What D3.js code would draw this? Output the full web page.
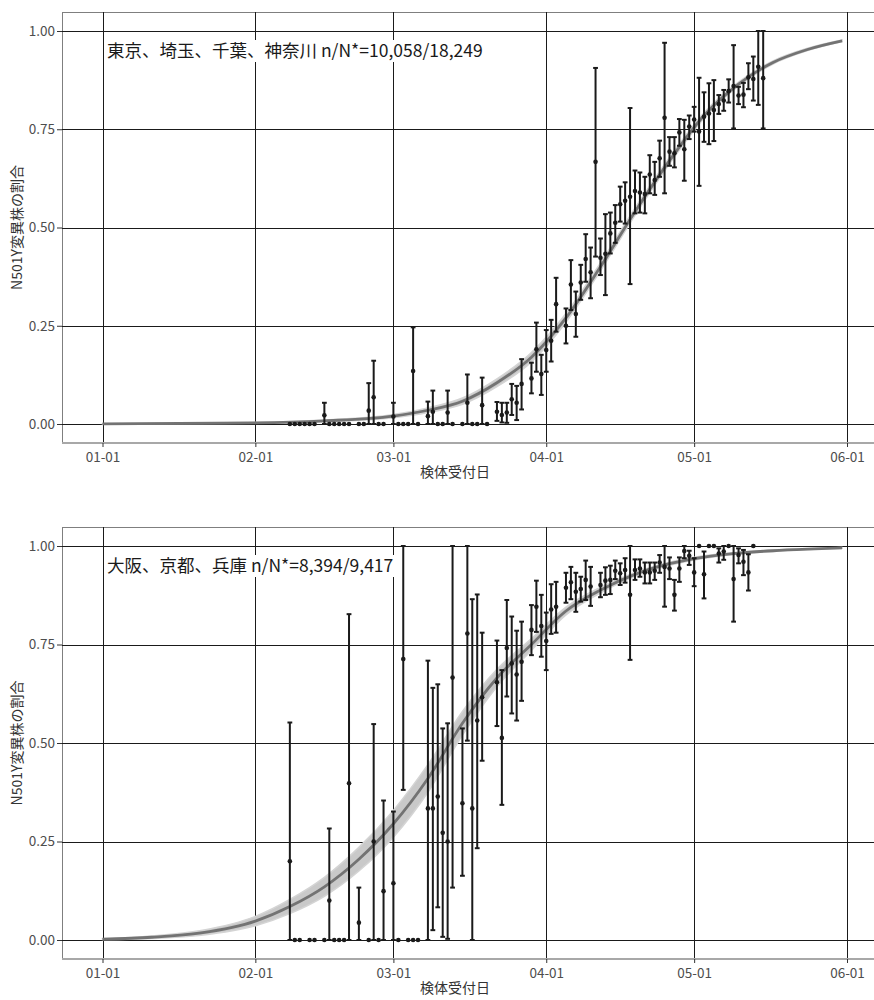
<!DOCTYPE html>
<html>
<head>
<meta charset="utf-8">
<script src="https://cdn.jsdelivr.net/npm/d3@7/dist/d3.min.js"></script>
<style>
  body { margin: 0; background: #fff; }
  text { font-family: "Noto Sans CJK JP", "Noto Sans", sans-serif; }
</style>
</head>
<body>
<div id="chart"></div>
<script>
// ---- data ----
var yTicks = [0, 0.25, 0.5, 0.75, 1];
var xTicks = ["01-01", "02-01", "03-01", "04-01", "05-01", "06-01"];

// 東京、埼玉、千葉、神奈川 : daily proportion with 95% interval (null = no bar)
var kantoDates = ["02-08","02-09","02-10","02-11","02-12","02-13","02-15","02-16","02-17","02-18","02-19","02-20","02-22","02-23","02-24","02-25","02-26","02-27",
  "03-01","03-02","03-03","03-04","03-05","03-06","03-08","03-09","03-10","03-11","03-12","03-13","03-15","03-16","03-17","03-18","03-19","03-20","03-22","03-23","03-24","03-25","03-26","03-27","03-29","03-30","03-31",
  "04-01","04-02","04-03","04-05","04-06","04-07","04-08","04-09","04-10","04-11","04-12","04-13","04-14","04-15","04-16","04-17","04-18","04-19","04-20","04-21","04-22","04-23","04-24","04-25","04-26","04-27","04-28","04-29","04-30",
  "05-01","05-02","05-03","05-04","05-05","05-06","05-07","05-08","05-09","05-10","05-11","05-12","05-13","05-14","05-15"];
var kantoProp = [0,0,0,0,0,0,.022,0,0,0,0,0,0,0,.034,.068,0,0,
  .019,0,0,0,.135,0,.02,.031,0,0,.029,0,0,.054,0,0,.048,0,.031,.023,.029,.063,.054,.102,.116,.19,.127,
  .188,.212,.305,.25,.355,.28,.36,.42,.386,.667,.423,.433,.485,.512,.559,.568,.578,.593,.589,.585,.635,.621,.676,.779,.693,.689,.742,.699,.757,
  .775,.744,.782,.79,.799,.814,.823,.847,.86,.836,.838,.882,.878,.909,.88];
var kantoLo = [null,null,null,null,null,null,0,null,null,null,null,null,null,null,0,0,null,null,
  0,null,null,null,0,null,0,0,null,null,0,null,null,0,null,null,0,null,.008,.004,.003,.023,.01,.037,.078,.133,.074,
  .133,.159,.235,.205,.29,.222,.316,.362,.32,.426,.379,.328,.434,.461,.515,.51,.356,.536,.538,.536,.587,.583,.629,.587,.657,.653,.708,.619,.725,
  .744,.606,.718,.712,.72,.789,.797,.818,.752,.814,.806,.852,.823,.812,.752];
var kantoHi = [null,null,null,null,null,null,.054,null,null,null,null,null,null,null,.104,.161,null,null,
  .054,null,null,null,.246,null,.057,.085,null,null,.085,null,null,.126,null,null,.118,null,.056,.054,.054,.102,.097,.165,.156,.258,.176,
  .239,.265,.372,.294,.417,.337,.405,.483,.449,.906,.472,.534,.538,.557,.604,.615,.804,.645,.64,.629,.684,.667,.721,.97,.73,.73,.776,.774,.785,
  .807,.881,.844,.867,.875,.837,.85,.877,.964,.858,.868,.918,.935,1,1];

// fitted curve and its band
var kantoFitDates = ["01-01","02-01","02-15","03-01","03-08","03-15","03-22","03-29","04-05","04-12","04-19","04-26","05-03","05-10","05-17","05-24","05-31"];
var kantoFit   = [.0005,.003,.008,.02,.035,.058,.105,.17,.27,.40,.54,.67,.785,.865,.92,.953,.975];
var kantoFitLo = [.0002,.002,.006,.016,.029,.05,.095,.158,.259,.39,.531,.662,.778,.86,.916,.95,.973];
var kantoFitHi = [.0008,.004,.01,.024,.041,.066,.115,.182,.281,.41,.549,.678,.792,.87,.924,.956,.977];

// 大阪、京都、兵庫
var kansaiDates = ["02-08","02-09","02-10","02-12","02-13","02-15","02-16","02-17","02-18","02-19","02-20","02-22","02-24","02-25","02-26","02-27",
  "03-01","03-02","03-03","03-04","03-05","03-06","03-08","03-09","03-10","03-11","03-12","03-13","03-15","03-16","03-17","03-18","03-19","03-22","03-23","03-24","03-25","03-26","03-27","03-29","03-30","03-31",
  "04-01","04-02","04-03","04-05","04-06","04-07","04-08","04-09","04-10","04-12","04-13","04-14","04-15","04-16","04-17","04-18","04-19","04-20","04-21","04-22","04-23","04-24","04-25","04-26","04-27","04-28","04-29","04-30",
  "05-01","05-02","05-03","05-04","05-05","05-06","05-07","05-08","05-09","05-10","05-11","05-12","05-13"];
var kansaiProp = [.2,0,0,0,0,0,.1,0,0,0,.398,.044,0,.25,0,.124,
  .144,0,.713,0,0,0,.334,.334,.364,.272,.25,.666,.347,.778,.334,.557,.616,.654,.513,.741,.702,.674,.706,.787,.846,.797,
  .759,.839,.846,.894,.908,.884,.891,.914,.897,.901,.912,.914,.937,.931,.939,.876,.939,.943,.933,.933,.937,.958,.947,.943,.876,.943,.987,.975,
  .933,1,.928,1,1,.981,.986,1,.916,.977,.96,.933,1];
var kansaiLo = [0,null,null,null,null,null,0,null,null,null,0,0,null,0,null,0,
  0,null,.381,null,null,null,0,.025,.083,.008,.003,.133,.163,.506,0,.233,.455,.543,.343,.618,.575,.557,.607,.723,.782,.719,
  .685,.777,.78,.856,.865,.833,.859,.863,.848,.87,.876,.878,.916,.901,.907,.711,.914,.922,.905,.905,.914,.932,.846,.916,.836,.909,.969,.952,
  .898,null,.867,null,null,.958,.965,null,.808,.956,.926,.887,null];
var kansaiHi = [.552,null,null,null,null,null,.283,null,null,null,.827,.133,null,.548,null,.354,
  .326,null,1,null,null,null,.709,.64,.649,.537,.55,1,.537,1,.865,.877,.78,.76,.685,.863,.821,.785,.808,.85,.912,.876,
  .831,.903,.909,.932,.947,.932,.922,.963,.947,.932,.946,.95,.963,.956,.969,1,.966,.966,.958,.958,.958,.977,1,.971,.914,.971,1,.988,
  .969,null,.986,null,null,.994,1,null,1,.994,.99,.979,null];

var kansaiFitDates = ["01-01","01-11","01-21","02-01","02-08","02-15","02-22","03-01","03-08","03-15","03-22","03-29","04-05","04-12","04-19","04-26","05-03","05-10","05-17","05-24","05-31"];
var kansaiFit   = [.002,.007,.018,.048,.085,.135,.205,.295,.41,.55,.665,.75,.835,.888,.928,.955,.972,.982,.988,.992,.995];
var kansaiFitLo = [.001,.004,.012,.036,.067,.111,.175,.261,.375,.52,.643,.735,.825,.881,.923,.951,.969,.98,.986,.991,.994];
var kansaiFitHi = [.003,.01,.024,.06,.103,.159,.235,.329,.445,.58,.687,.765,.845,.895,.933,.959,.975,.984,.99,.993,.996];

// ---- layout ----
var width = 874, height = 1000;
var plotLeft = 62, plotRight = 882;

var parseDay = d3.timeParse("%Y-%m-%d");
function day(s) { return parseDay("2021-" + s); }

// shared time scale
var x = d3.scaleTime()
    .domain([day("01-01"), day("06-01")])
    .range([102.5, 847]);

var svg = d3.select("#chart").append("svg")
    .attr("width", width)
    .attr("height", height);

var panels = [
  {top: 12, bottom: 443, label: "東京、埼玉、千葉、神奈川 n/N*=10,058/18,249",
   dates: kantoDates, prop: kantoProp, lo: kantoLo, hi: kantoHi,
   fitDates: kantoFitDates, fit: kantoFit, fitLo: kantoFitLo, fitHi: kantoFitHi},
  {top: 527, bottom: 959, label: "大阪、京都、兵庫 n/N*=8,394/9,417",
   dates: kansaiDates, prop: kansaiProp, lo: kansaiLo, hi: kansaiHi,
   fitDates: kansaiFitDates, fit: kansaiFit, fitLo: kansaiFitLo, fitHi: kansaiFitHi}
];

panels.forEach(function(p) {
  var y = d3.scaleLinear().domain([0, 1]).range([p.bottom - 19, p.top + 19]);
  var g = svg.append("g");

  // panel background + border
  g.append("rect")
      .attr("x", plotLeft + 0.5).attr("y", p.top + 0.5)
      .attr("width", plotRight - plotLeft).attr("height", p.bottom - p.top)
      .attr("fill", "#fff").attr("stroke", "#7f7f7f").attr("stroke-width", 1);

  // grid
  g.selectAll(".hgrid").data(yTicks).enter().append("line")
      .attr("x1", plotLeft).attr("x2", plotRight)
      .attr("y1", function(d) { return Math.round(y(d)) + 0.5; })
      .attr("y2", function(d) { return Math.round(y(d)) + 0.5; })
      .attr("stroke", "#1a1a1a").attr("stroke-width", 1);
  g.selectAll(".vgrid").data(xTicks).enter().append("line")
      .attr("x1", function(d) { return Math.round(x(day(d))) + 0.5; })
      .attr("x2", function(d) { return Math.round(x(day(d))) + 0.5; })
      .attr("y1", p.top).attr("y2", p.bottom)
      .attr("stroke", "#1a1a1a").attr("stroke-width", 1);

  // bottom border
  g.append("line")
      .attr("x1", plotLeft).attr("x2", plotRight)
      .attr("y1", p.bottom).attr("y2", p.bottom)
      .attr("stroke", "#a8a8a8").attr("stroke-width", 2);

  // fitted band and line
  var fitData = p.fitDates.map(function(d, i) {
    return {date: day(d), v: p.fit[i], lo: p.fitLo[i], hi: p.fitHi[i]};
  });
  var band = d3.area()
      .curve(d3.curveMonotoneX)
      .x(function(d) { return x(d.date); })
      .y0(function(d) { return y(d.lo); })
      .y1(function(d) { return y(d.hi); });
  var fitLine = d3.line()
      .curve(d3.curveMonotoneX)
      .x(function(d) { return x(d.date); })
      .y(function(d) { return y(d.v); });
  g.append("path").datum(fitData).attr("d", band)
      .attr("fill", "#c9c9c9").attr("stroke", "#d4d4d4").attr("stroke-width", 1.5);
  g.append("path").datum(fitData).attr("d", fitLine)
      .attr("fill", "none").attr("stroke", "#737373").attr("stroke-width", 2.8);

  // daily points
  var pts = p.dates.map(function(d, i) {
    return {date: day(d), v: p.prop[i], lo: p.lo[i], hi: p.hi[i]};
  });
  var bars = pts.filter(function(d) { return d.lo !== null; });
  var cap = 2.4;

  g.selectAll(".bar").data(bars).enter().append("line")
      .attr("x1", function(d) { return x(d.date); })
      .attr("x2", function(d) { return x(d.date); })
      .attr("y1", function(d) { return y(d.lo); })
      .attr("y2", function(d) { return y(d.hi); })
      .attr("stroke", "#1a1a1a").attr("stroke-width", 2);
  ["lo", "hi"].forEach(function(k) {
    g.selectAll(".cap-" + k).data(bars).enter().append("line")
        .attr("x1", function(d) { return x(d.date) - cap; })
        .attr("x2", function(d) { return x(d.date) + cap; })
        .attr("y1", function(d) { return y(d[k]); })
        .attr("y2", function(d) { return y(d[k]); })
        .attr("stroke", "#1a1a1a").attr("stroke-width", 2);
  });
  g.selectAll(".pt").data(pts).enter().append("circle")
      .attr("cx", function(d) { return x(d.date); })
      .attr("cy", function(d) { return y(d.v); })
      .attr("r", 2.3)
      .attr("fill", "#1a1a1a");

  // region label with white box
  var lab = g.append("text")
      .attr("x", 107).attr("y", p.top + 45)
      .attr("font-size", 17.5)
      .attr("fill", "#1a1a1a")
      .text(p.label);
  var bb = lab.node().getBBox();
  g.insert("rect", function() { return lab.node(); })
      .attr("x", bb.x - 2).attr("y", p.top + 28)
      .attr("width", bb.width + 4).attr("height", 22)
      .attr("fill", "#fff");

  // axes
  var yAxis = g.append("g")
      .attr("transform", "translate(" + plotLeft + ",0)")
      .call(d3.axisLeft(y).tickValues(yTicks).tickFormat(d3.format(".2f")).tickSize(5).tickPadding(2));
  var xAxis = g.append("g")
      .attr("transform", "translate(0," + p.bottom + ")")
      .call(d3.axisBottom(x).tickValues(xTicks.map(day)).tickFormat(d3.timeFormat("%m-%d")).tickSize(4).tickPadding(5));
  [xAxis, yAxis].forEach(function(a) {
    a.select(".domain").remove();
    a.selectAll(".tick line").attr("stroke", "#333");
    a.selectAll("text")
        .attr("fill", "#4d4d4d")
        .style("font-size", "13.5px")
        .style("font-family", "'Noto Sans CJK JP', sans-serif");
  });

  // axis titles
  g.append("text")
      .attr("x", 455).attr("y", p.bottom + 34)
      .attr("text-anchor", "middle")
      .attr("font-size", 14)
      .attr("fill", "#333")
      .text("検体受付日");
  g.append("text")
      .attr("transform", "translate(22," + ((p.top + p.bottom) / 2) + ") rotate(-90)")
      .attr("text-anchor", "middle")
      .attr("font-size", 14)
      .attr("fill", "#333")
      .text("N501Y変異株の割合");
});
</script>
</body>
</html>
